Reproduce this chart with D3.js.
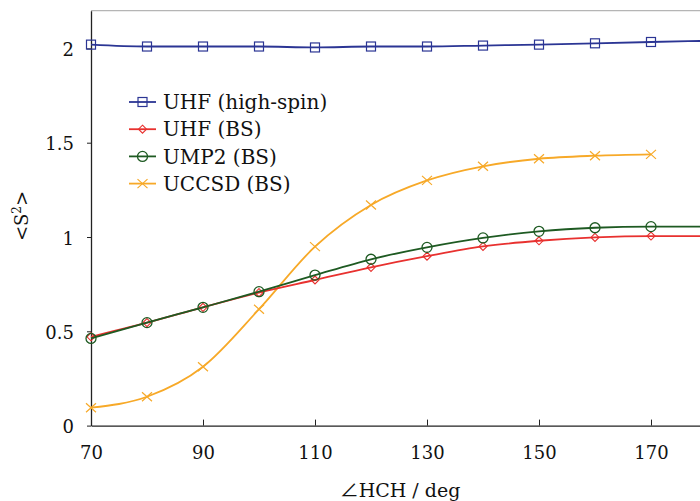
<!DOCTYPE html>
<html><head><meta charset="utf-8">
<script src="https://cdn.jsdelivr.net/npm/d3@7"></script>
<style>body{margin:0;background:#fff}svg{display:block}text{font-family:"DejaVu Serif",serif;fill:#111}</style>
</head><body><svg id="c" width="700" height="501"></svg>
<script>
const angles = [70, 80, 90, 100, 110, 120, 130, 140, 150, 160, 170, 180];
const uhfHighSpin = [2.02, 2.01, 2.01, 2.01, 2.005, 2.01, 2.01, 2.015, 2.02, 2.027, 2.034, 2.04];
const uhfBS = [0.471, 0.546, 0.627, 0.705, 0.772, 0.839, 0.898, 0.950, 0.980, 0.998, 1.005, 1.005];
const ump2BS = [0.462, 0.546, 0.627, 0.710, 0.798, 0.882, 0.945, 0.995, 1.030, 1.049, 1.055, 1.055];
const uccsdBS = [0.095, 0.153, 0.312, 0.617, 0.949, 1.170, 1.300, 1.375, 1.415, 1.431, 1.438, null];
const seriesNames = ["UHF (high-spin)", "UHF (BS)", "UMP2 (BS)", "UCCSD (BS)"];
const xTicks = [70, 90, 110, 130, 150, 170];
const yTicks = [0, 0.5, 1, 1.5, 2];

const series = [
  {name: seriesNames[0], values: uhfHighSpin, color: "#2b3594", marker: "square"},
  {name: seriesNames[1], values: uhfBS, color: "#e8312f", marker: "diamond"},
  {name: seriesNames[2], values: ump2BS, color: "#1e5a22", marker: "circle"},
  {name: seriesNames[3], values: uccsdBS, color: "#f7a928", marker: "cross"}
];

const svg = d3.select("#c");
const L = 91, B = 425.6;
const x = d3.scaleLinear().domain([70, 180]).range([L, L + 616]);
const y = d3.scaleLinear().domain([0, 2.2]).range([B, B - 2.2 * 188.6]);

// frame top line
svg.append("line").attr("x1", L).attr("x2", 700).attr("y1", y(2.2)).attr("y2", y(2.2))
  .attr("stroke", "#b5b5b5").attr("stroke-width", 1.2);

const gx = svg.append("g").attr("transform", `translate(0,${B})`)
  .call(d3.axisBottom(x).tickValues(xTicks).tickSizeInner(-6).tickSizeOuter(0).tickPadding(21).tickFormat(d3.format("d")));
const gy = svg.append("g").attr("transform", `translate(${L},0)`)
  .call(d3.axisLeft(y).tickValues(yTicks).tickSizeInner(4).tickSizeOuter(0).tickPadding(13).tickFormat(d => d));
[gx, gy].forEach(g => {
  g.select(".domain").attr("stroke", "#222").attr("stroke-width", 1.3);
  g.selectAll(".tick line").attr("stroke", "#222");
  g.selectAll("text").attr("font-size", 18).attr("font-family", "DejaVu Serif").attr("fill", "#111");
});
gx.selectAll("text").attr("dy", "0.71em");
gy.selectAll("text").attr("dy", "0.4em");

svg.append("clipPath").attr("id", "clp").append("rect")
  .attr("x", L - 10).attr("y", 0).attr("width", 700).attr("height", B + 10);

const plot = svg.append("g").attr("clip-path", "url(#clp)");

function drawMarker(g, type, cx, cy, color) {
  if (type === "square") {
    g.append("rect").attr("x", cx - 4.5).attr("y", cy - 4.5).attr("width", 9).attr("height", 9)
      .attr("fill", "none").attr("stroke", color).attr("stroke-width", 1.2);
  } else if (type === "diamond") {
    g.append("path").attr("d", `M${cx},${cy-4}L${cx+4},${cy}L${cx},${cy+4}L${cx-4},${cy}Z`)
      .attr("fill", "none").attr("stroke", color).attr("stroke-width", 1.1);
  } else if (type === "circle") {
    g.append("circle").attr("cx", cx).attr("cy", cy).attr("r", 5)
      .attr("fill", "none").attr("stroke", color).attr("stroke-width", 1.3);
  } else {
    g.append("path").attr("d", `M${cx-5},${cy-4.5}L${cx+5},${cy+4.5}M${cx-5},${cy+4.5}L${cx+5},${cy-4.5}`)
      .attr("fill", "none").attr("stroke", color).attr("stroke-width", 1.2);
  }
}

const line = d3.line().defined(d => d[1] != null).x(d => x(d[0])).y(d => y(d[1])).curve(d3.curveMonotoneX);
const order = [0, 3, 1, 2];
order.forEach(i => {
  const s = series[i];
  const pts = angles.map((a, k) => [a, s.values[k]]).filter(d => d[1] != null);
  plot.append("path").datum(pts).attr("d", line).attr("fill", "none")
    .attr("stroke", s.color).attr("stroke-width", 1.8);
  pts.forEach(p => drawMarker(plot, s.marker, x(p[0]), y(p[1]), s.color));
});

// legend
const lg = svg.append("g");
series.forEach((s, i) => {
  const yy = 102 + i * 27.2;
  lg.append("line").attr("x1", 129).attr("x2", 156).attr("y1", yy).attr("y2", yy)
    .attr("stroke", s.color).attr("stroke-width", 1.8);
  drawMarker(lg, s.marker, 142.5, yy, s.color);
  lg.append("text").attr("x", 163).attr("y", yy).attr("dy", "0.36em").attr("font-size", 20).text(s.name);
});

// axis labels
const xl = svg.append("text").attr("x", 400).attr("y", 497).attr("text-anchor", "middle").attr("font-size", 19);
xl.append("tspan").attr("font-family", "Noto Sans CJK JP").text("∠");
xl.append("tspan").text("HCH / deg");
const yl = svg.append("text").attr("transform", "translate(28,216) rotate(-90)").attr("text-anchor", "middle").attr("font-size", 18);
yl.append("tspan").text("<S");
yl.append("tspan").attr("dy", -7).attr("font-size", 12).text("2");
yl.append("tspan").attr("dy", 7).text(">");
</script></body></html>
